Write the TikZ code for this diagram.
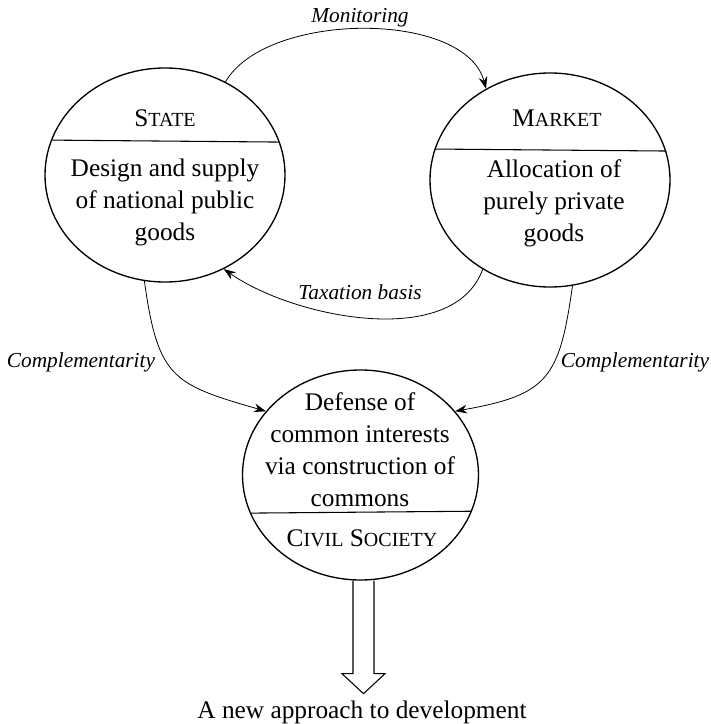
\documentclass[tikz,border=0pt]{standalone}
\usepackage{fontspec}
\setmainfont{Liberation Serif}
\usetikzlibrary{shapes.geometric,arrows.meta,calc}
% small capitals built from two sizes of the roman face
\newcommand{\smallcapsword}[2]{#1{\fontsize{15}{17}\selectfont #2}}

\begin{document}
\begin{tikzpicture}[x=0.75pt,y=0.75pt,
  sector/.style={draw, ellipse, line width=1pt, inner sep=0pt},
  bodytext/.style={align=center, font=\fontsize{19}{24}\selectfont, inner sep=0pt},
  headtext/.style={font=\fontsize{19}{24}\selectfont, inner sep=0pt},
  flowlabel/.style={font=\fontsize{16}{19}\selectfont\itshape, inner sep=0pt},
  link/.style={line width=0.6pt, -{Stealth[length=9pt,width=6.5pt,inset=3pt]}},
  divider/.style={line width=0.8pt},
  outcome/.style={line width=0.8pt}]
\useasboundingbox (0,0) rectangle (710,-724);

% the three sectors
\node[sector, minimum width=180pt, minimum height=160.5pt] (state) at (165,-175) {};
\node[sector, minimum width=180pt, minimum height=160.5pt] (market) at (550,-180) {};
\node[sector, minimum width=177pt, minimum height=157.5pt] (civil) at (360.5,-475) {};

% horizontal rules splitting each sector
\draw[divider] (state.163.9) -- (state.16.1);
\draw[divider] (market.165.4) -- (market.14.6);
\draw[divider] (civil.-161.5) -- (civil.-18.5);

% sector titles and roles
\node[headtext] (statehead) at (165,-118) {\smallcapsword{S}{TATE}};
\node[bodytext] (statebody) at (165,-202) {Design and supply\\of national public\\goods};
\node[headtext] (markethead) at (557,-118) {\smallcapsword{M}{ARKET}};
\node[bodytext] (marketbody) at (554,-203) {Allocation of\\purely private\\goods};
\node[bodytext] (civilbody) at (360,-450) {Defense of\\common interests\\via construction of\\commons};
\node[headtext] (civilhead) at (362,-538) {\smallcapsword{C}{IVIL} \smallcapsword{S}{OCIETY}};

% relations between sectors
\node[flowlabel] (monitor) at (360,-18) {Monitoring};
\node[flowlabel] (tax) at (360,-292) {Taxation basis};
\node[flowlabel] (compleft) at (81,-362) {Complementarity};
\node[flowlabel] (compright) at (635,-362) {Complementarity};

\draw[link] (state.57) to[out=60, in=105, looseness=0.8] (market.125);
\draw[link] (market.-127) to[out=-110, in=-35, looseness=0.85] (state.-58);
\draw[link] (state.-101.5) to[out=-82, in=164, looseness=1.4] (civil.146.4);
\draw[link] (market.-78) to[out=-98, in=10, looseness=1.4] (civil.34.4);

% outcome
\node[font=\fontsize{19}{24}\selectfont, inner sep=0pt] (dev) at (362,-712) {A new approach to development};
\draw[outcome] ($(civil.south)+(-7.5,0)$) -- ++(0,-93) -- ++(-11,0)
  -- ($(civil.south)+(3,-113)$) -- ($(civil.south)+(24.5,-93)$) -- ++(-11,0)
  -- ($(civil.south)+(13.5,0)$);
\end{tikzpicture}
\end{document}
